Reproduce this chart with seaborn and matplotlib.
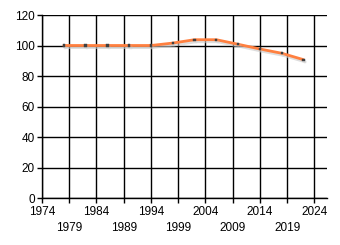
import matplotlib
matplotlib.use("Agg")
import matplotlib.pyplot as plt
import matplotlib.patheffects as pe
import seaborn as sns
import pandas as pd

years = [1978, 1982, 1986, 1990, 1994, 1998, 2002, 2006, 2010, 2014, 2018, 2022]
values = [100, 100, 100, 100, 100, 101.6, 103.8, 103.8, 100.8, 97.7, 94.9, 90.7]
xticks = [1974, 1979, 1984, 1989, 1994, 1999, 2004, 2009, 2014, 2019, 2024]
yticks = [0, 20, 40, 60, 80, 100, 120]

sns.set_theme(style="white")
plt.rcParams['font.family'] = ['Liberation Sans', 'DejaVu Sans']

df = pd.DataFrame({"year": years, "value": values})

fig = plt.figure(figsize=(3.4, 2.45), dpi=100)
ax = fig.add_axes([42/340, 1 - 198/245, (327 - 42)/340, (198 - 15)/245])

sns.lineplot(data=df, x="year", y="value", ax=ax, color="#FF8040", linewidth=2,
             marker="s", markersize=1.6, markerfacecolor="#404040",
             markeredgecolor="#404040", markeredgewidth=0.3, zorder=5,
             path_effects=[pe.SimpleLineShadow(offset=(1, -1.5), shadow_color="#c8c8c8", alpha=0.6),
                           pe.Normal()])

ax.set_xlim(1974, 2026.3)
ax.set_ylim(0, 120)
ax.set_xticks(xticks)
ax.set_xticklabels([str(t) for t in xticks])
ax.set_yticks(yticks)
ax.set_yticklabels([str(t) for t in yticks])
ax.grid(True, color="black", linewidth=1)
ax.set_axisbelow(True)
ax.set_xlabel("")
ax.set_ylabel("")

for s in ["top", "right"]:
    ax.spines[s].set_visible(False)
for s in ["left", "bottom"]:
    ax.spines[s].set_visible(True)
    ax.spines[s].set_color("black")
    ax.spines[s].set_linewidth(1)

ax.tick_params(axis="both", which="major", bottom=True, left=True, length=3.5,
               width=1, color="black", labelsize=8.5, labelcolor="black",
               direction="out")
ax.tick_params(axis="x", pad=2)
ax.tick_params(axis="y", pad=1.5)
for i, t in enumerate(ax.xaxis.get_major_ticks()):
    if i % 2 == 1:
        t.set_pad(14)

fig.savefig("out.png", dpi=100, facecolor="white")
